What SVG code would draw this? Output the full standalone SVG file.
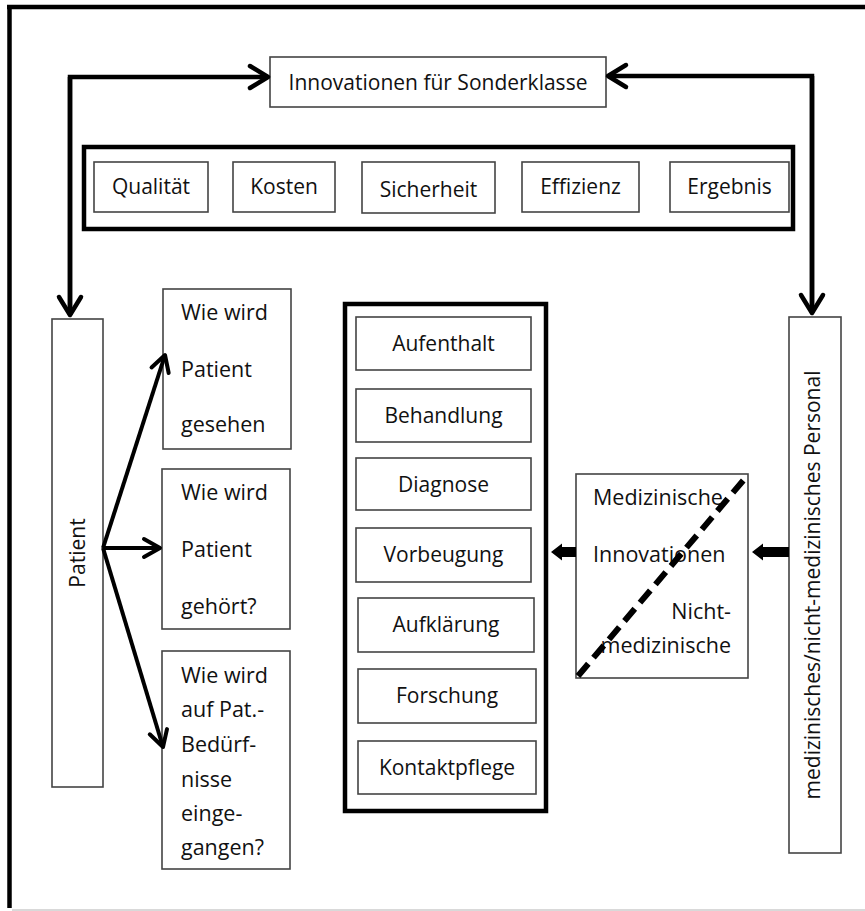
<svg xmlns="http://www.w3.org/2000/svg" width="865" height="911" viewBox="0 0 865 911">
<style>
text{font-family:"Open Sans","Liberation Sans",sans-serif;font-size:21px;fill:#111}
.box{fill:#fff;stroke:#444;stroke-width:1.6}
.frame{fill:#fff;stroke:#000;stroke-width:4.5}
.c{text-anchor:middle}
.q{font-size:21.5px}
.conn{fill:none;stroke:#000;stroke-width:4.5}
.pa{fill:none;stroke:#000;stroke-width:4}
</style>
<defs>
<marker id="chev" markerUnits="userSpaceOnUse" viewBox="0 0 30 30" refX="24" refY="15" markerWidth="30" markerHeight="30" orient="auto">
<path d="M6,4 L24,15 L6,26" fill="none" stroke="#000" stroke-width="4.5" stroke-linejoin="round" stroke-linecap="round"/>
</marker>
<marker id="chev2" markerUnits="userSpaceOnUse" viewBox="0 0 30 30" refX="24" refY="15" markerWidth="30" markerHeight="30" orient="auto">
<path d="M8,6 L24,15 L8,24" fill="none" stroke="#000" stroke-width="4" stroke-linejoin="round" stroke-linecap="round"/>
</marker>
</defs>
<rect width="865" height="911" fill="#fff"/>
<g id="outer-frame">
<line x1="7" y1="7" x2="865" y2="7" stroke="#000" stroke-width="4.5"/>
<line x1="9.5" y1="5" x2="9.5" y2="908" stroke="#000" stroke-width="4.5"/>
<line x1="12" y1="910" x2="865" y2="910" stroke="#ccc" stroke-width="1.5"/>
</g>
<g id="innovationen">
<rect class="box" x="270" y="57" width="336" height="50"/>
<text class="c" x="438" y="90">Innovationen für Sonderklasse</text>
</g>
<g id="kriterien">
<rect class="frame" x="84" y="147" width="709" height="82"/>
<g id="qualitaet"><rect class="box" x="94" y="162" width="114" height="50"/><text class="c" x="151" y="194">Qualität</text></g>
<g id="kosten"><rect class="box" x="233" y="162" width="102" height="50"/><text class="c" x="284" y="194">Kosten</text></g>
<g id="sicherheit"><rect class="box" x="362" y="162" width="133" height="51"/><text class="c" x="428.5" y="197">Sicherheit</text></g>
<g id="effizienz"><rect class="box" x="522" y="162" width="117" height="50"/><text class="c" x="580.5" y="194">Effizienz</text></g>
<g id="ergebnis"><rect class="box" x="670" y="162" width="119" height="50"/><text class="c" x="729.5" y="194">Ergebnis</text></g>
</g>
<g id="patient">
<rect class="box" x="52" y="319" width="51" height="468"/>
<text class="c" transform="translate(78,553) rotate(-90)" y="7">Patient</text>
</g>
<g id="frage1">
<rect class="box" x="163" y="289" width="128" height="160"/>
<text class="q" x="181" y="320">Wie wird</text>
<text class="q" x="181" y="377">Patient</text>
<text class="q" x="181" y="432">gesehen</text>
</g>
<g id="frage2">
<rect class="box" x="162" y="469" width="128" height="160"/>
<text class="q" x="181" y="500">Wie wird</text>
<text class="q" x="181" y="557">Patient</text>
<text class="q" x="181" y="614">gehört?</text>
</g>
<g id="frage3">
<rect class="box" x="162" y="651" width="128" height="218"/>
<text class="q" x="181" y="683">Wie wird</text>
<text class="q" x="181" y="717">auf Pat.-</text>
<text class="q" x="181" y="752">Bedürf-</text>
<text class="q" x="181" y="787">nisse</text>
<text class="q" x="181" y="821">einge-</text>
<text class="q" x="181" y="855">gangen?</text>
</g>
<g id="bereiche">
<rect class="frame" x="345" y="304" width="201" height="507"/>
<g id="aufenthalt"><rect class="box" x="356" y="317" width="175" height="53"/><text class="c" x="443.5" y="351">Aufenthalt</text></g>
<g id="behandlung"><rect class="box" x="356" y="389" width="175" height="53"/><text class="c" x="443.5" y="423">Behandlung</text></g>
<g id="diagnose"><rect class="box" x="356" y="458" width="175" height="52"/><text class="c" x="443.5" y="491.5">Diagnose</text></g>
<g id="vorbeugung"><rect class="box" x="356" y="528" width="175" height="54"/><text class="c" x="443.5" y="562">Vorbeugung</text></g>
<g id="aufklaerung"><rect class="box" x="358" y="598" width="176" height="54"/><text class="c" x="446" y="632">Aufklärung</text></g>
<g id="forschung"><rect class="box" x="358" y="669" width="178" height="54"/><text class="c" x="447" y="703">Forschung</text></g>
<g id="kontaktpflege"><rect class="box" x="358" y="741" width="178" height="53"/><text class="c" x="447" y="775">Kontaktpflege</text></g>
</g>
<g id="med-innovationen">
<rect class="box" x="576" y="474" width="172" height="204"/>
<text class="q" x="593" y="505">Medizinische</text>
<text class="q" x="593" y="562">Innovationen</text>
<text class="q" x="731" y="619" text-anchor="end">Nicht-</text>
<text class="q" x="731" y="653" text-anchor="end">medizinische</text>
<line x1="578" y1="676" x2="747" y2="476" stroke="#000" stroke-width="6" stroke-dasharray="16,8"/>
</g>
<g id="personal">
<rect class="box" x="789" y="317" width="52" height="536"/>
<text class="c" transform="translate(813,585) rotate(-90)" y="7">medizinisches/nicht-medizinisches Personal</text>
</g>
<g id="connectors">
<path class="conn" d="M70,315 L70,77 L268,77" marker-end="url(#chev)"/>
<path class="conn" d="M70,77 L70,315" marker-end="url(#chev)"/>
<path class="conn" d="M812,313 L812,76 L608,76" marker-end="url(#chev)"/>
<path class="conn" d="M812,76 L812,313" marker-end="url(#chev)"/>
<line class="pa" x1="103" y1="548" x2="165" y2="355" marker-end="url(#chev2)"/>
<line class="pa" x1="103" y1="548" x2="160" y2="548" marker-end="url(#chev2)"/>
<line class="pa" x1="103" y1="548" x2="163" y2="747" marker-end="url(#chev2)"/>
<polygon points="576,547 562,547 562,543.5 551,552 562,560.5 562,557 576,557" fill="#000"/>
<polygon points="789,547 763,547 763,543.5 752,552 763,560.5 763,557 789,557" fill="#000"/>
</g>
</svg>
